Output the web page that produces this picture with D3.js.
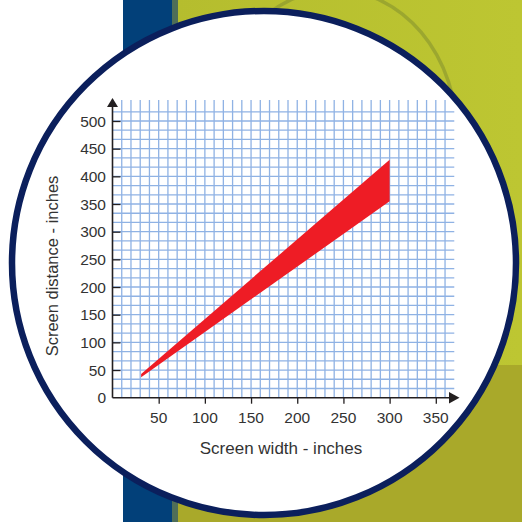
<!DOCTYPE html>
<html>
<head>
<meta charset="utf-8">
<script src="https://cdn.jsdelivr.net/npm/d3@7"></script>
<style>
  body { margin: 0; background: #fff; }
  svg { display: block; }
</style>
</head>
<body>
<div id="chart"></div>
<script>
// values
var xTicks = [50, 100, 150, 200, 250, 300, 350];
var yTicks = [0, 50, 100, 150, 200, 250, 300, 350, 400, 450, 500];
var bandWidth = [31, 300];      // screen width (inches)
var bandHigh = [43, 430];       // farthest recommended distance
var bandLow = [37, 355];        // nearest recommended distance

var svgWidth = 522, svgHeight = 522;

var svg = d3.select("#chart").append("svg")
    .attr("width", svgWidth).attr("height", svgHeight);

// background: white strip, blue band, yellow-green photo
svg.append("rect").attr("x", 0).attr("y", 0).attr("width", 522).attr("height", 522).attr("fill", "#fff");
var grad = svg.append("defs").append("linearGradient").attr("id", "bgfade")
    .attr("x1", "0").attr("x2", "1").attr("y1", "0").attr("y2", "0");
grad.append("stop").attr("offset", "0%").attr("stop-color", "#b5bd2e");
grad.append("stop").attr("offset", "100%").attr("stop-color", "#bdc632");
svg.append("rect").attr("x", 176).attr("y", 0).attr("width", 346).attr("height", 522).attr("fill", "url(#bgfade)");
svg.append("rect").attr("x", 176).attr("y", 365).attr("width", 346).attr("height", 157).attr("fill", "#a9a92a");
svg.append("ellipse").attr("cx", 335).attr("cy", 135).attr("rx", 122).attr("ry", 145)
    .attr("fill", "none").attr("stroke", "#6f7d2c").attr("stroke-width", 3.5).attr("opacity", 0.4);
svg.append("rect").attr("x", 123).attr("y", 0).attr("width", 50).attr("height", 522).attr("fill", "#024079");
svg.append("rect").attr("x", 172).attr("y", 0).attr("width", 6).attr("height", 522).attr("fill", "#4f6e58");

// white disc with navy ring
svg.append("circle").attr("cx", 264).attr("cy", 263).attr("r", 252)
    .attr("fill", "#fff").attr("stroke", "#0b1f5c").attr("stroke-width", 6.5);

// scales
var x = d3.scaleLinear().domain([0, 350]).range([112.5, 435.8]);
var y = d3.scaleLinear().domain([0, 500]).range([397.7, 121]);

var g = svg.append("g");

// grid paper: vertical every 10, horizontal every 50/3
var vLines = d3.range(10, 361, 10);
var hLines = d3.range(1, 32).map(function(i) { return i * 50 / 3; });

g.append("g").selectAll("line").data(vLines).enter().append("line")
    .attr("x1", function(d) { return x(d); }).attr("x2", function(d) { return x(d); })
    .attr("y1", y(0)).attr("y2", 100)
    .attr("stroke", "#8fb2e4").attr("stroke-width", 1.3);

g.append("g").selectAll("line").data(hLines).enter().append("line")
    .attr("x1", x(0)).attr("x2", x(370))
    .attr("y1", function(d) { return y(d); }).attr("y2", function(d) { return y(d); })
    .attr("stroke", "#8fb2e4").attr("stroke-width", 1.3);

// red band
var bandPts = [];
bandWidth.forEach(function(w, i) { bandPts.push([x(w), y(bandHigh[i])]); });
for (var i = bandWidth.length - 1; i >= 0; i--) { bandPts.push([x(bandWidth[i]), y(bandLow[i])]); }
g.append("path")
    .attr("d", d3.line()(bandPts) + "Z")
    .attr("fill", "#ee1c25");

// axes
var axisCol = "#231f20";
var yAxisCall = d3.axisRight(y).tickValues(yTicks.slice(1)).tickSize(8).tickFormat("");
var yAxis = g.append("g").attr("transform", "translate(" + x(0) + " 0)").call(yAxisCall);
yAxis.select(".domain").remove();
yAxis.selectAll("line").attr("stroke", axisCol).attr("stroke-width", 1.3);

var xAxisCall = d3.axisBottom(x).tickValues(xTicks).tickSize(6).tickFormat("");
var xAxis = g.append("g").attr("transform", "translate(0 " + y(0) + ")").call(xAxisCall);
xAxis.select(".domain").remove();
xAxis.selectAll("line").attr("stroke", axisCol).attr("stroke-width", 1.3);

g.append("line").attr("x1", x(0)).attr("x2", x(0)).attr("y1", y(0)).attr("y2", 106)
    .attr("stroke", axisCol).attr("stroke-width", 1.6);
g.append("line").attr("x1", x(0)).attr("x2", 450).attr("y1", y(0)).attr("y2", y(0))
    .attr("stroke", axisCol).attr("stroke-width", 1.6);
g.append("path")
    .attr("d", "M" + (x(0) - 5.5) + " 107 L" + x(0) + " 98 L" + (x(0) + 5.5) + " 107 Z")
    .attr("fill", axisCol);
g.append("path")
    .attr("d", "M449 " + (y(0) - 5.8) + " L459.5 " + y(0) + " L449 " + (y(0) + 5.8) + " Z")
    .attr("fill", axisCol);

// tick labels
var font = "'Liberation Sans', Arial, sans-serif";
g.append("g").selectAll("text").data(yTicks).enter().append("text")
    .attr("x", 106).attr("y", function(d) { return y(d) + 5.5; })
    .attr("text-anchor", "end")
    .attr("font-family", font).attr("font-size", "15.5px")
    .style("fill", "#333")
    .text(function(d) { return d; });

g.append("g").selectAll("text").data(xTicks).enter().append("text")
    .attr("x", function(d) { return x(d); }).attr("y", 423.3)
    .attr("text-anchor", "middle")
    .attr("font-family", font).attr("font-size", "15.5px")
    .style("fill", "#333")
    .text(function(d) { return d; });

// axis titles
g.append("text")
    .attr("x", 281).attr("y", 454)
    .attr("text-anchor", "middle")
    .attr("font-family", font).attr("font-size", "17px")
    .style("fill", "#333")
    .text("Screen width - inches");

g.append("text")
    .attr("transform", "translate(58 266) rotate(-90)")
    .attr("text-anchor", "middle")
    .attr("font-family", font).attr("font-size", "16.5px")
    .style("fill", "#333")
    .text("Screen distance - inches");
</script>
</body>
</html>
